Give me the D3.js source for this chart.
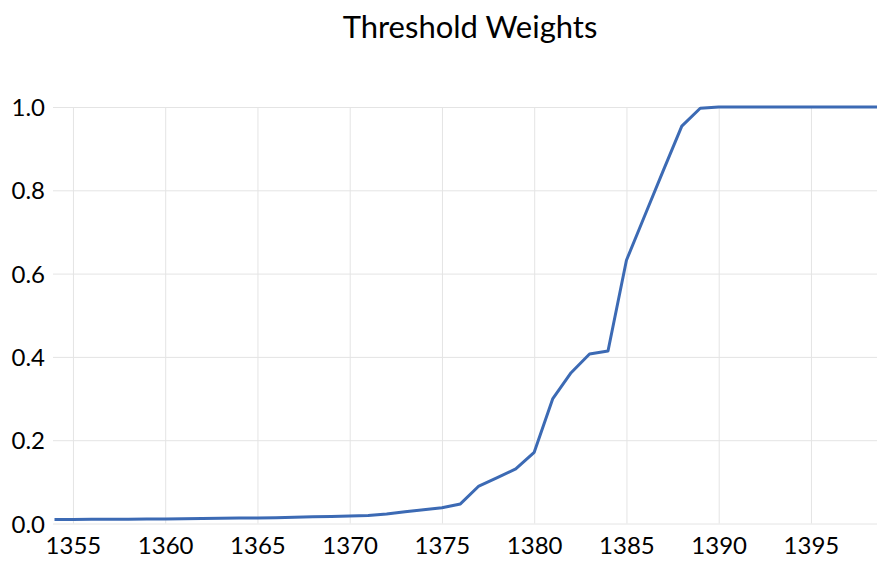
<!DOCTYPE html>
<html>
<head>
<meta charset="utf-8">
<script src="https://cdn.jsdelivr.net/npm/d3@7"></script>
<style>
  html, body { margin: 0; padding: 0; background: #fff; }
  #chart { width: 877px; height: 561px; overflow: hidden; }
  text { font-family: Lato, "Open Sans", sans-serif; fill: #000; }
</style>
</head>
<body>
<div id="chart"></div>
<script>
// Chart data
const years = [1354, 1355, 1356, 1357, 1358, 1359, 1360, 1361, 1362, 1363,
    1364, 1365, 1366, 1367, 1368, 1369, 1370, 1371, 1372, 1373,
    1374, 1375, 1376, 1377, 1378, 1379, 1380, 1381, 1382, 1383,
    1384, 1385, 1386, 1387, 1388, 1389, 1390, 1391, 1392, 1393,
    1394, 1395, 1396, 1397, 1398, 1399];
const weights = [0.0097, 0.0098, 0.0100, 0.0102, 0.0104, 0.0106, 0.0110, 0.0115, 0.0120, 0.0125,
    0.0130, 0.0134, 0.0140, 0.0150, 0.0160, 0.0170, 0.0180, 0.0190, 0.0230, 0.0280,
    0.0330, 0.0380, 0.0470, 0.0900, 0.1100, 0.1310, 0.1710, 0.2990, 0.3620, 0.4070,
    0.4140, 0.6320, 0.7400, 0.8480, 0.9540, 0.9970, 1.0, 1.0, 1.0, 1.0,
    1.0, 1.0, 1.0, 1.0, 1.0, 1.0];
const xTicks = [1355, 1360, 1365, 1370, 1375, 1380, 1385, 1390, 1395];
const yTicks = [0.0, 0.2, 0.4, 0.6, 0.8, 1.0];
const title = 'Threshold Weights';

const width = 877, height = 561;
const data = years.map((yr, i) => ({ year: yr, value: weights[i] }));

const svg = d3.select('#chart')
    .append('svg')
    .attr('width', width)
    .attr('height', height);

// Scales (the plot runs a little past the right edge, as in the original)
const x = d3.scaleLinear()
    .domain([1354, 1399])
    .range([54.5, 54.5 + 45 * 18.45]);

const y = d3.scaleLinear()
    .domain([0, 1])
    .range([523.5, 107]);

// Horizontal gridlines + y labels
svg.append('g')
    .attr('transform', 'translate(53,0)')
    .call(d3.axisLeft(y)
        .tickValues(yTicks)
        .tickSize(-(width - 53 + 10))
        .tickPadding(8)
        .tickFormat(d3.format('.1f')))
    .call(g => g.select('.domain').remove())
    .call(g => g.selectAll('.tick line').attr('stroke', '#e4e4e4').attr('stroke-width', 1))
    .call(g => g.selectAll('.tick text')
        .attr('x', -8)
        .attr('dy', '0.36em')
        .style('font-size', '24px')
        .style('fill', '#000'));

// Vertical gridlines + x labels
svg.append('g')
    .attr('transform', `translate(0,${y(0)})`)
    .call(d3.axisBottom(x)
        .tickValues(xTicks)
        .tickSize(-(y(0) - y(1)))
        .tickPadding(8)
        .tickFormat(d3.format('d')))
    .call(g => g.select('.domain').remove())
    .call(g => g.selectAll('.tick line').attr('stroke', '#e4e4e4').attr('stroke-width', 1))
    .call(g => g.selectAll('.tick text')
        .attr('y', 13)
        .attr('dy', '0.71em')
        .style('font-size', '24px')
        .style('fill', '#000'));

// The line
const line = d3.line()
    .x(d => x(d.year))
    .y(d => y(d.value));

svg.append('path')
    .datum(data)
    .attr('fill', 'none')
    .attr('stroke', '#3c6ab4')
    .attr('stroke-width', 3)
    .attr('stroke-linejoin', 'round')
    .attr('d', line);

// Title
svg.append('text')
    .attr('x', 470)
    .attr('y', 38)
    .attr('text-anchor', 'middle')
    .style('font-size', '31px')
    .text(title);
</script>
</body>
</html>
